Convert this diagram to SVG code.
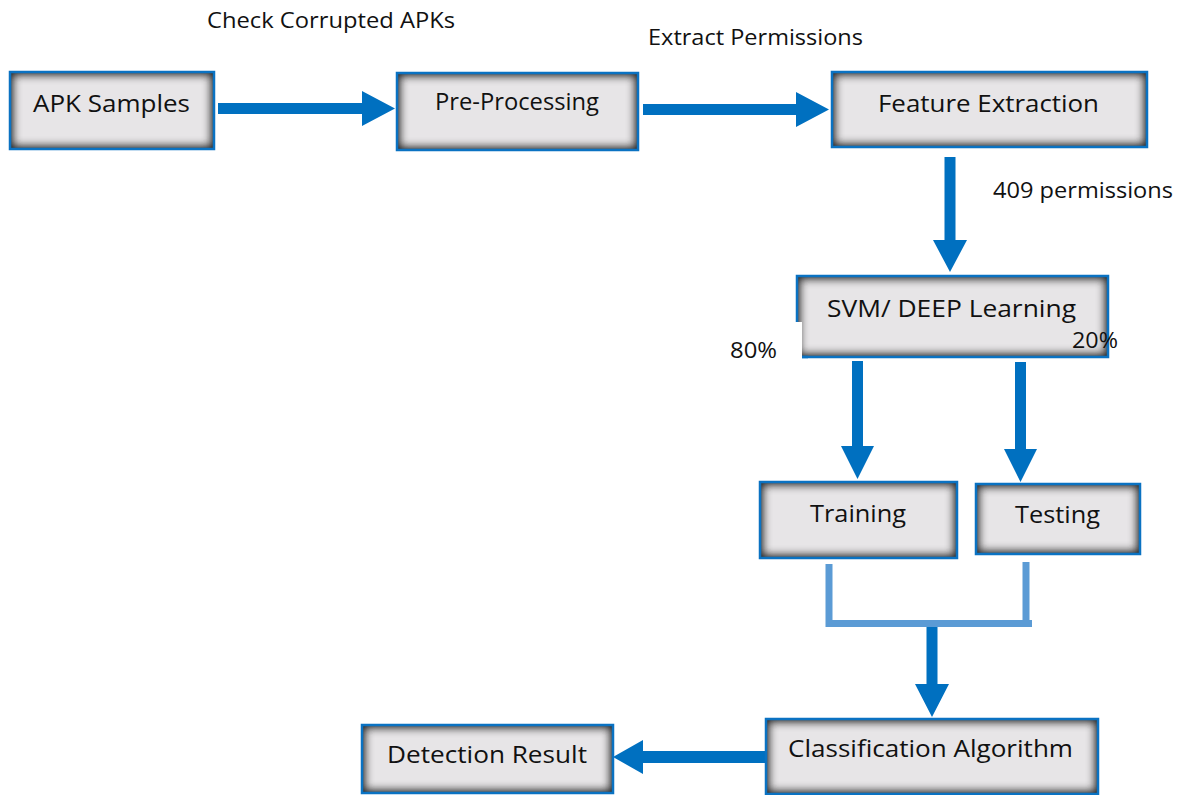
<svg xmlns="http://www.w3.org/2000/svg" width="1184" height="795" viewBox="0 0 1184 795">
<defs>
<style>
.box{fill:#e7e5e7}
.bd{fill:none;stroke:#0a72c2;stroke-width:2.5}
.t{font-family:"Open Sans","Liberation Sans",sans-serif;font-size:24px;fill:#111;text-anchor:middle}
.l{font-family:"Open Sans","Liberation Sans",sans-serif;font-size:22px;fill:#111;text-anchor:middle}
.ar{fill:#0070c0}
.br{fill:#5b9bd5}
</style>
<filter id="inner" x="-15%" y="-30%" width="130%" height="160%" color-interpolation-filters="sRGB">
<feFlood flood-color="#1e1e1e" flood-opacity="1" result="f"/>
<feComposite in="f" in2="SourceAlpha" operator="out" result="o"/>
<feGaussianBlur in="o" stdDeviation="5.5" result="b"/>
<feComposite in="b" in2="SourceAlpha" operator="in" result="s"/>
<feMerge><feMergeNode in="SourceGraphic"/><feMergeNode in="s"/><feMergeNode in="s"/></feMerge>
</filter>
</defs>

<g id="connectors">
<polygon class="ar" points="218,103 362,103 362,91 395,108.5 362,126 362,114 218,114"/>
<polygon class="ar" points="643,104 796,104 796,92 829,109.5 796,127 796,115 643,115"/>
<polygon class="ar" points="944.5,157 955.5,157 955.5,240 967,240 950,272 933,240 944.5,240"/>
<polygon class="ar" points="852,361 863,361 863,446 874,446 857.5,479 841,446 852,446"/>
<polygon class="ar" points="1015,362 1026,362 1026,449 1037,449 1020.5,482 1004,449 1015,449"/>
<rect class="br" x="825.5" y="564" width="7" height="63"/>
<rect class="br" x="1022.5" y="562" width="7" height="65"/>
<rect class="br" x="828" y="620" width="204" height="7"/>
<polygon class="ar" points="926.5,627 937.5,627 937.5,684 949,684 932,717 915,684 926.5,684"/>
<polygon class="ar" points="766,751 643,751 643,740 613,757 643,774 643,763 766,763"/>
</g>

<g id="apk-samples">
<rect class="box" filter="url(#inner)" x="10" y="72" width="204" height="77"/>
<rect class="bd" x="10" y="72" width="204" height="77"/>
<text class="t" x="111.5" y="112" textLength="157" lengthAdjust="spacingAndGlyphs">APK Samples</text>
</g>

<g id="pre-processing">
<rect class="box" filter="url(#inner)" x="397" y="73" width="241" height="77"/>
<rect class="bd" x="397" y="73" width="241" height="77"/>
<text class="t" x="517" y="110" textLength="164" lengthAdjust="spacingAndGlyphs">Pre-Processing</text>
</g>

<g id="feature-extraction">
<rect class="box" filter="url(#inner)" x="832" y="72" width="315" height="75"/>
<rect class="bd" x="832" y="72" width="315" height="75"/>
<text class="t" x="988.5" y="112" textLength="221" lengthAdjust="spacingAndGlyphs">Feature Extraction</text>
</g>

<g id="svm-deep-learning">
<rect class="box" filter="url(#inner)" x="797" y="276" width="311" height="81"/>
<rect class="bd" x="797" y="276" width="311" height="81"/>
<rect x="760" y="322" width="42" height="37" fill="#ffffff"/>
<line x1="802" y1="357" x2="808" y2="357" stroke="#0a72c2" stroke-width="2.5"/>
<text class="t" x="951.5" y="317" textLength="249" lengthAdjust="spacingAndGlyphs">SVM/ DEEP Learning</text>
</g>

<g id="training">
<rect class="box" filter="url(#inner)" x="760" y="482" width="197" height="76"/>
<rect class="bd" x="760" y="482" width="197" height="76"/>
<text class="t" x="858" y="522" textLength="96" lengthAdjust="spacingAndGlyphs">Training</text>
</g>

<g id="testing">
<rect class="box" filter="url(#inner)" x="976" y="484" width="164" height="70"/>
<rect class="bd" x="976" y="484" width="164" height="70"/>
<text class="t" x="1057.5" y="523" textLength="85" lengthAdjust="spacingAndGlyphs">Testing</text>
</g>

<g id="classification-algorithm">
<rect class="box" filter="url(#inner)" x="766" y="719" width="332" height="75"/>
<rect class="bd" x="766" y="719" width="332" height="75"/>
<text class="t" x="930.5" y="757" textLength="285" lengthAdjust="spacingAndGlyphs">Classification Algorithm</text>
</g>

<g id="detection-result">
<rect class="box" filter="url(#inner)" x="362" y="725" width="251" height="68"/>
<rect class="bd" x="362" y="725" width="251" height="68"/>
<text class="t" x="487" y="763" textLength="200" lengthAdjust="spacingAndGlyphs">Detection Result</text>
</g>

<g id="labels">
<text class="l" x="331" y="28" textLength="248" lengthAdjust="spacingAndGlyphs">Check Corrupted APKs</text>
<text class="l" x="755.5" y="45" textLength="215" lengthAdjust="spacingAndGlyphs">Extract Permissions</text>
<text class="l" x="1083" y="198" textLength="180" lengthAdjust="spacingAndGlyphs">409 permissions</text>
<text class="l" x="753.5" y="358" textLength="47" lengthAdjust="spacingAndGlyphs">80%</text>
<text class="l" x="1095" y="348" textLength="46" lengthAdjust="spacingAndGlyphs">20%</text>
</g>
</svg>
